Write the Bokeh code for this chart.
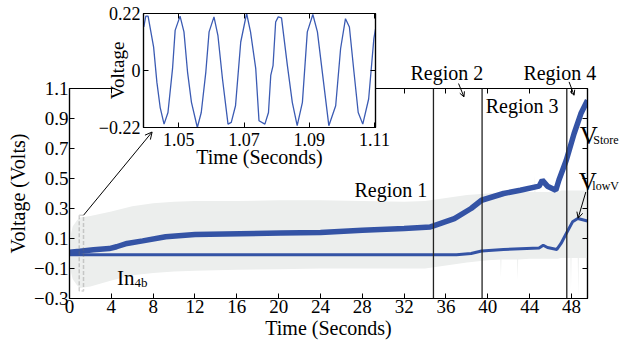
import math
from bokeh.plotting import figure
from bokeh.models import (Range1d, LinearAxis, FixedTicker, Span, Label, Arrow,
                          OpenHead, BoxAnnotation, Div)
from bokeh.layouts import column
from bokeh.embed import file_html
from bokeh.resources import INLINE

SERIF = "Liberation Serif"
BLUE = "#3453a5"
INSET_BLUE = "#3b5bb3"
GREY = "#eceeed"

# ---------------- data ----------------
x_ticks = [0, 4, 8, 12, 16, 20, 24, 28, 32, 36, 40, 44, 48]
y_ticks = [-0.3, -0.1, 0.1, 0.3, 0.5, 0.7, 0.9, 1.1]

# In4b envelope (grey band)
t_band = [0, 0.3, 0.7, 1, 2, 3, 4, 6, 8, 10,
          12, 16, 20, 24, 28, 32, 34, 36, 38, 40,
          41.2, 41.25, 41.3, 42, 42.8, 42.85, 42.9, 44, 44.45, 44.5,
          44.55, 45.5, 46.6, 46.65, 46.7, 47, 47.9, 47.95, 48, 48.6,
          48.65, 48.7, 49, 49.53]
band_upper = [0.08, 0.18, 0.22, 0.24, 0.25, 0.265, 0.28, 0.315, 0.335, 0.345,
              0.35, 0.35, 0.355, 0.355, 0.35, 0.345, 0.35, 0.37, 0.39, 0.40,
              0.405, 0.405, 0.405, 0.41, 0.41, 0.41, 0.41, 0.41, 0.41, 0.52,
              0.41, 0.41, 0.41, 0.50, 0.41, 0.42, 0.42, 0.42, 0.42, 0.42,
              0.42, 0.42, 0.42, 0.42]
band_lower = [-0.08, -0.17, -0.21, -0.23, -0.22, -0.2, -0.18, -0.145, -0.13, -0.12,
              -0.115, -0.108, -0.105, -0.1, -0.1, -0.1, -0.1, -0.08, -0.06, -0.045,
              -0.04, -0.16, -0.04, -0.04, -0.04, -0.18, -0.04, -0.035, -0.035, -0.035,
              -0.035, -0.035, -0.035, -0.035, -0.035, -0.03, -0.03, -0.25, -0.03, -0.03,
              -0.3, -0.03, -0.03, -0.03]

# V_Store
t_store = [0, 1, 2.3, 3.8, 4.5, 5.5, 7, 9.2, 12, 16.3, 20.2, 24, 28, 32, 34.5,
           34.8, 36.8, 38.4, 39.4, 41.5, 43.1, 44.9, 45.2, 45.7, 46.5, 46.8,
           47.5, 48.25, 48.9, 49.53]
v_store = [0.008, 0.015, 0.025, 0.033, 0.045, 0.067, 0.084, 0.112, 0.126, 0.132,
           0.137, 0.14, 0.155, 0.167, 0.177, 0.184, 0.233, 0.30, 0.355, 0.40,
           0.422, 0.449, 0.489, 0.449, 0.422, 0.49, 0.622, 0.80, 0.933, 1.022]

# V_lowV
t_low = [0, 37, 38.4, 39.4, 41.5, 44.9, 45.3, 45.7, 46.6, 47.0, 47.5, 48.1, 48.6, 49.53]
v_low = [-0.008, -0.008, 0.0, 0.017, 0.027, 0.037, 0.055, 0.04, 0.027, 0.067,
         0.133, 0.211, 0.233, 0.217]

# region boundaries (s)
region_bounds = [34.8, 39.45, 47.55]

# zoom window on In4b
zoom_t = [0.93, 1.34]
zoom_v = [-0.25, 0.255]

# inset: In4b zoomed
inset_x_ticks = [1.05, 1.07, 1.09, 1.11]
inset_y_ticks = [-0.22, 0, 0.22]
t_inset = [1.0393, 1.0399, 1.0406, 1.0423, 1.0433, 1.0443, 1.0455, 1.0467, 1.0481, 1.0489,
           1.0504, 1.0516, 1.0527, 1.0539, 1.0557, 1.0569, 1.0583, 1.0593, 1.0608, 1.0620,
           1.0634, 1.0651, 1.0661, 1.0674, 1.0690, 1.0708, 1.0720, 1.0736, 1.0746, 1.0764,
           1.0775, 1.0782, 1.0789, 1.0797, 1.0805, 1.0815, 1.0833, 1.0848, 1.0863, 1.0879,
           1.0894, 1.0911, 1.0925, 1.0940, 1.0960, 1.0981, 1.0996, 1.1011, 1.1023, 1.1037,
           1.1050, 1.1064, 1.1082, 1.1098, 1.1103]
v_inset = [0.168, 0.21, 0.21, 0.09, -0.045, -0.142, -0.207, -0.162, 0.007, 0.155,
           0.21, 0.149, -0.006, -0.123, -0.22, -0.162, -0.006, 0.149, 0.207, 0.136,
           -0.032, -0.207, -0.2, -0.136, 0.11, 0.22, 0.149, 0.007, -0.194, -0.207,
           -0.162, -0.019, 0.019, 0.187, 0.207, 0.203, 0.019, -0.123, -0.213, -0.123,
           0.149, 0.216, 0.149, -0.006, -0.213, -0.136, 0.084, 0.2, 0.168, -0.006,
           -0.162, -0.207, -0.11, 0.123, 0.16]

# ---------------- layout constants (page pixels) ----------------
W, H = 621, 345
MAIN_L, MAIN_T, MAIN_R, MAIN_B = 69, 88, 587, 298
BL, BR = MAIN_L, W - MAIN_R          # common left / right borders of all figures
X0, X1, Y0, Y1 = 0, 49.53, -0.3, 1.1
OV_L, OV_T, OV_R, OV_B = 330, 45, 621, 235   # annotation overlay frame area


def fmt(v, nd):
    return f"{v:.{nd}f}".replace("-", "\u2212")


def style_axis(ax, ticks, tick_font_size, labels=None, show_labels=True):
    ax.ticker = FixedTicker(ticks=ticks)
    if labels is not None:
        ax.major_label_overrides = {t: l for t, l in zip(ticks, labels)}
    ax.major_tick_in = 5
    ax.major_tick_out = 0
    ax.minor_tick_line_color = None
    ax.axis_line_color = "black"
    ax.axis_line_width = 1.2
    ax.major_tick_line_color = "black"
    ax.major_tick_line_width = 1
    ax.major_label_text_font = SERIF
    ax.major_label_text_font_size = tick_font_size
    ax.major_label_text_color = "black" if show_labels else None
    ax.axis_label_text_font = SERIF
    ax.axis_label_text_font_style = "normal"
    ax.axis_label_text_color = "black"


# ---------------- main figure ----------------
p = figure(width=W, height=H, x_range=Range1d(X0, X1), y_range=Range1d(Y0, Y1),
           output_backend="svg", toolbar_location=None,
           min_border_left=BL, min_border_right=BR,
           min_border_top=MAIN_T, min_border_bottom=H - MAIN_B,
           background_fill_color="white", border_fill_color="white")
p.grid.visible = False
p.outline_line_color = "black"
p.outline_line_width = 1.2

p.varea(x=t_band, y1=band_lower, y2=band_upper, fill_color=GREY)
p.line(t_low, v_low, line_color=BLUE, line_width=3)
p.line(t_store, v_store, line_color=BLUE, line_width=5.5)

style_axis(p.xaxis[0], x_ticks, "19px")
p.xaxis[0].axis_label = "Time (Seconds)"
p.xaxis[0].axis_label_text_font_size = "20px"
p.xaxis[0].major_label_standoff = 1
p.xaxis[0].axis_label_standoff = 1

style_axis(p.yaxis[0], y_ticks, "19px", [fmt(v, 1) for v in y_ticks])
p.yaxis[0].axis_label = "Voltage (Volts)"
p.yaxis[0].axis_label_text_font_size = "20px"
p.yaxis[0].major_label_standoff = 1
p.yaxis[0].axis_label_standoff = 2

top_ax = LinearAxis()
style_axis(top_ax, x_ticks, "2px", show_labels=False)
p.add_layout(top_ax, "above")
right_ax = LinearAxis()
style_axis(right_ax, y_ticks, "2px", show_labels=False)
p.add_layout(right_ax, "right")

for b in region_bounds:
    p.add_layout(Span(location=b, dimension="height", line_color="#222222", line_width=1.3))

p.add_layout(BoxAnnotation(left=zoom_t[0], right=zoom_t[1], bottom=zoom_v[0], top=zoom_v[1],
                           fill_alpha=0, line_color="#6a6a6a", line_width=1.5, line_dash="4 2"))


def lab(fig, x, y, text, size=20, x_offset=0, y_offset=0):
    # Bokeh draws the alphabetic baseline about a third of an em lower than asked; lift it
    fig.add_layout(Label(x=x, y=y, text=text, text_font=SERIF, text_font_size=f"{size}px",
                         text_color="black", text_baseline="alphabetic",
                         x_offset=x_offset, y_offset=y_offset + 0.34 * size))


def arrow(fig, x0, y0, x1, y1, size=6):
    fig.add_layout(Arrow(end=OpenHead(size=size, line_width=1, line_color="black"),
                         x_start=x0, y_start=y0, x_end=x1, y_end=y1,
                         line_color="black", line_width=1))


lab(p, 4.54, -0.211, "In", size=21)
lab(p, 4.54, -0.211, "4b", size=13, x_offset=17.5, y_offset=-2)
arrow(p, zoom_t[1], zoom_v[1], 7.9, 0.81, size=7)

# ---------------- transparent annotation overlay (same data units as main) ----------------
sx = (MAIN_R - MAIN_L) / (X1 - X0)
sy = (MAIN_B - MAIN_T) / (Y1 - Y0)
ov = figure(frame_width=OV_R - OV_L, frame_height=OV_B - OV_T,
            x_range=Range1d(X0 + (OV_L - MAIN_L) / sx, X0 + (OV_R - MAIN_L) / sx),
            y_range=Range1d(Y1 - (OV_B - MAIN_T) / sy, Y1 - (OV_T - MAIN_T) / sy),
            output_backend="svg", toolbar_location=None,
            x_axis_location=None, y_axis_location=None,
            min_border=0, min_border_left=BL, min_border_right=BR,
            min_border_top=0, min_border_bottom=0,
            background_fill_alpha=0, border_fill_alpha=0, outline_line_color=None)
ov.grid.visible = False

lab(ov, 27.25, 0.377, "Region 1")
lab(ov, 32.6, 1.16, "Region 2")
lab(ov, 39.8, 0.937, "Region 3")
lab(ov, 43.4, 1.16, "Region 4")
lab(ov, 48.8, 0.729, "V", size=25)
lab(ov, 48.8, 0.729, "Store", size=12, x_offset=13.5)
lab(ov, 48.7, 0.422, "V", size=25)
lab(ov, 48.7, 0.422, "lowV", size=12, x_offset=13.5)
arrow(ov, 37.2, 1.133, 37.72, 1.044, size=5)
arrow(ov, 47.77, 1.144, 48.25, 1.055, size=5)
arrow(ov, 49.37, 0.41, 48.63, 0.235, size=6)
ov.styles = {"position": "absolute", "left": f"{OV_L - BL}px", "top": f"{OV_T}px", "z-index": "20"}

# ---------------- inset ----------------
INS_L, INS_T = 143, 13
ins = figure(frame_width=232, frame_height=114,
             x_range=Range1d(1.0392, 1.1103), y_range=Range1d(-0.22, 0.22),
             output_backend="svg", toolbar_location=None,
             min_border_left=BL, min_border_top=INS_T, min_border_right=BR, min_border_bottom=44,
             border_fill_alpha=0, background_fill_color="white")
ins.grid.visible = False
ins.outline_line_color = "black"
ins.outline_line_width = 1.2
ins.line(t_inset, v_inset, line_color=INSET_BLUE, line_width=1.3)

style_axis(ins.xaxis[0], inset_x_ticks, "18px")
ins.xaxis[0].axis_label = "Time (Seconds)"
ins.xaxis[0].axis_label_text_font_size = "20px"
ins.xaxis[0].major_label_standoff = 5
ins.xaxis[0].axis_label_standoff = -3
style_axis(ins.yaxis[0], inset_y_ticks, "18px",
           [fmt(v, 2) if v != 0 else "0" for v in inset_y_ticks])
ins.yaxis[0].axis_label = "Voltage"
ins.yaxis[0].axis_label_text_font_size = "19px"
ins.yaxis[0].major_label_standoff = 3
ins.yaxis[0].axis_label_standoff = -32
itop = LinearAxis()
style_axis(itop, inset_x_ticks, "2px", show_labels=False)
ins.add_layout(itop, "above")
iright = LinearAxis()
style_axis(iright, inset_y_ticks, "2px", show_labels=False)
ins.add_layout(iright, "right")
ins.styles = {"position": "absolute", "left": f"{INS_L - BL}px", "top": "0px", "z-index": "10"}

# white patch hiding the main frame's top edge just left of the inset (as in the original)
cover = Div(text="", width=INS_L - 110, height=10,
            styles={"position": "absolute", "left": "110px", "top": f"{MAIN_T - 5}px",
                    "background-color": "white", "z-index": "5"})

layout = column(p, cover, ins, ov,
                styles={"position": "relative", "overflow": "hidden",
                        "width": f"{W}px", "height": f"{H}px"})

open("out.html", "w").write(file_html(layout, INLINE))
